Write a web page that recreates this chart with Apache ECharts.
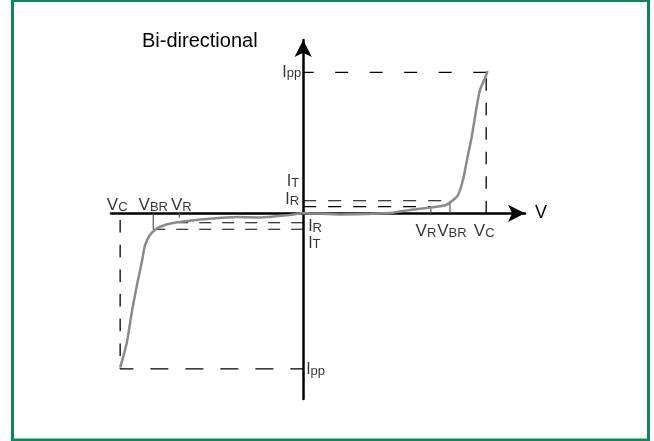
<!DOCTYPE html>
<html>
<head>
<meta charset="utf-8">
<title>Bi-directional</title>
<script src="https://cdn.jsdelivr.net/npm/echarts@6/dist/echarts.min.js"></script>
<style>
  html, body { margin: 0; padding: 0; background: #fff; }
  #chart { width: 654px; height: 441px; }
</style>
</head>
<body>
<div id="chart"></div>
<script>
// I-V curve of a bi-directional device, [negative side, positive side]
const curveV = [-10.0, -9.64, -9.37, -9.10, -8.83, -8.64, -8.37, -8.0, -7.55, -6.95, -5.09, -3.56, -2.36, -0.72, 0,
  2.01, 4.74, 6.0, 7.09, 7.8, 8.13, 8.46, 8.73, 8.95, 9.21, 9.48, 9.66, 9.93, 10.07]
const curveI = [-10.95, -9.2, -7.07, -5.2, -3.55, -2.25, -1.54, -1.08, -0.83, -0.65, -0.38, -0.26, -0.3, -0.12, 0,
  -0.08, 0.02, 0.27, 0.43, 0.59, 0.87, 1.3, 2.36, 3.78, 5.43, 7.56, 8.74, 9.57, 10.09]

const vc = [-10, 10]
const vbr = [-8.19, 8.02]
const vr = [-6.77, 6.98]
const ipp = [-11.04, 10]
const it = [-1.13, 0.89]
const ir = [-0.67, 0.47]

const FONT = 'Liberation Sans, Arial, sans-serif'

function seg(a, b, dash, color, width, dashOffset) {
  return {
    type: 'line',
    data: [a, b],
    symbol: 'none',
    silent: true,
    animation: false,
    lineStyle: { color: color, width: width, type: dash, dashOffset: dashOffset || 0 }
  }
}

const labels = [
  { at: [0, ipp[1]], text: '{i|I}{is|pp}', align: 'right', offset: [-2, 0] },
  { at: [0, ipp[0]], text: '{i|I}{is|pp}', align: 'left', offset: [3, 1] },
  { at: [0, it[1]], text: '{i|I}{is|T}', align: 'right', offset: [-4, -19] },
  { at: [0, ir[1]], text: '{i|I}{is|R}', align: 'right', offset: [-4, -7] },
  { at: [0, ir[0]], text: '{i|I}{is|R}', align: 'left', offset: [5, 4] },
  { at: [0, it[0]], text: '{i|I}{is|T}', align: 'left', offset: [5, 14] },
  { at: [vr[1], 0], text: '{v|V}{vs|R}', align: 'center', offset: [-5, 18] },
  { at: [vbr[1], 0], text: '{v|V}{vs|BR}', align: 'center', offset: [2, 18] },
  { at: [vc[1], 0], text: '{v|V}{vs|C}', align: 'center', offset: [-2, 18] },
  { at: [vc[0], 0], text: '{v|V}{vs|C}', align: 'center', offset: [-3, -8] },
  { at: [vbr[0], 0], text: '{v|V}{vs|BR}', align: 'center', offset: [0, -8] },
  { at: [vr[0], 0], text: '{v|V}{vs|R}', align: 'center', offset: [2, -8] }
]

const rich = {
  i: { fontSize: 16, fontFamily: FONT, color: '#000', verticalAlign: 'bottom' },
  is: { fontSize: 13, fontFamily: FONT, color: '#000', verticalAlign: 'bottom' },
  v: { fontSize: 17, fontFamily: FONT, color: '#000', verticalAlign: 'bottom' },
  vs: { fontSize: 13, fontFamily: FONT, color: '#000', verticalAlign: 'bottom' }
}

const chart = echarts.init(document.getElementById('chart'))

const axisCommon = {
  type: 'value',
  z: 3,
  splitLine: { show: false },
  axisTick: { show: false },
  axisLabel: { show: false },
  axisLine: {
    onZero: true,
    symbol: ['none', 'arrow'],
    symbolSize: [13, 17],
    lineStyle: { color: '#000', width: 2.5 }
  }
}

chart.setOption({
  animation: false,
  title: {
    text: 'Bi-directional',
    left: 142,
    top: 31,
    padding: 0,
    textStyle: { fontSize: 20, fontWeight: 'normal', color: '#000', fontFamily: FONT }
  },
  graphic: [{
    type: 'rect',
    shape: { x: 12.5, y: 0.5, width: 636, height: 439.5 },
    style: { fill: 'none', stroke: '#0b8a58', lineWidth: 3 },
    silent: true
  }],
  grid: { left: 111, right: 129, top: 40, bottom: 42, outerBoundsMode: 'none' },
  xAxis: Object.assign({}, axisCommon, {
    min: -10.5,
    max: 12.12,
    name: 'V',
    nameLocation: 'end',
    nameGap: 10,
    nameTextStyle: { fontSize: 18, color: '#000', fontFamily: FONT, verticalAlign: 'middle' }
  }),
  yAxis: Object.assign({}, axisCommon, {
    min: -13.17,
    max: 12.29
  }),
  series: [
    // Ipp guides
    seg([vc[1], ipp[1]], [0, ipp[1]], [13, 21.5], '#000', 1.3),
    seg([vc[0], ipp[0]], [0, ipp[0]], [18, 17], '#000', 1.3, 4.8),
    // Vc guides
    seg([vc[1], 0], [vc[1], ipp[1]], [12.5, 12], '#000', 1.3),
    seg([vc[0], 0], [vc[0], ipp[0]], [12.5, 12.2], '#000', 1.3, 18),
    // IT / IR guides
    seg([0, it[1]], [vbr[1], it[1]], [13, 12], '#000', 1.2),
    seg([0, ir[1]], [vr[1], ir[1]], [13, 12], '#000', 1.2),
    seg([0, ir[0]], [vr[0], ir[0]], [12, 11], '#000', 1.2),
    seg([0, it[0]], [vbr[0], it[0]], [12, 11], '#000', 1.2),
    // VBR / VR ticks
    seg([vbr[1], 0], [vbr[1], it[1]], 'solid', '#555', 1.2),
    seg([vr[1], 0], [vr[1], 0.3], 'solid', '#555', 1.2),
    seg([vbr[0], 0], [vbr[0], it[0]], 'solid', '#555', 1.2),
    seg([vr[0], 0], [vr[0], -0.3], 'solid', '#555', 1.2),
    {
      type: 'line',
      data: curveV.map((v, i) => [v, curveI[i]]),
      smooth: 0.25,
      symbol: 'none',
      silent: true,
      z: 4,
      lineStyle: { color: '#8a8a8a', width: 2.5 }
    },
    {
      type: 'scatter',
      symbolSize: 1,
      silent: true,
      itemStyle: { color: 'transparent' },
      data: labels.map(l => ({
        value: l.at,
        label: {
          show: true,
          position: 'inside',
          align: l.align,
          verticalAlign: 'middle',
          offset: l.offset,
          formatter: l.text,
          rich: rich
        }
      }))
    }
  ]
})
</script>
</body>
</html>
